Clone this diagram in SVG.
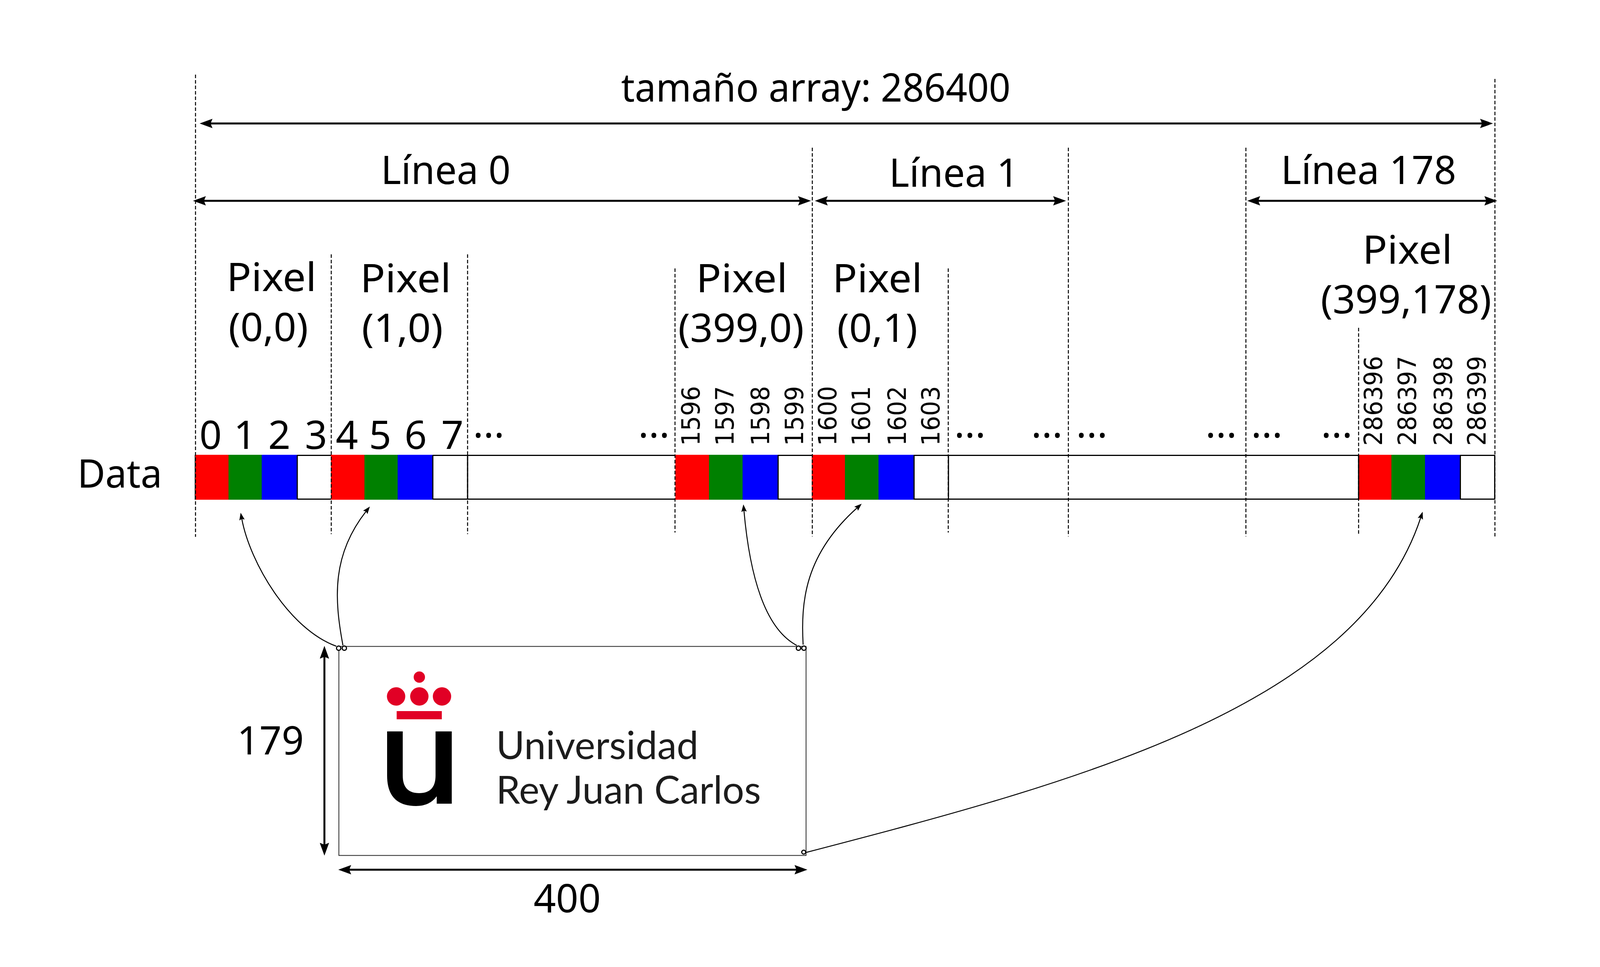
<svg xmlns="http://www.w3.org/2000/svg" width="4163" height="2475" viewBox="0 0 4163 2475">
<style>
.t{font-family:"Noto Sans","Open Sans",sans-serif;font-size:100px;fill:#000}
.m{text-anchor:middle}
.v{font-family:"DejaVu Sans",sans-serif;font-size:64px;fill:#000}
.l{font-family:Lato,"Noto Sans",sans-serif;font-size:98px;fill:#1c1c1c}
.d{stroke:#000;stroke-width:2.500;stroke-dasharray:9 5;fill:none}
.s{stroke:#000;stroke-width:3;fill:none}
.a{stroke:#000;stroke-width:5;fill:none;marker-start:url(#big);marker-end:url(#big)}
.c{stroke:#000;stroke-width:2.500;fill:none;marker-end:url(#thin)}
.o{stroke:#000;stroke-width:3;fill:#fff}
.r{fill:#ff0000}.g{fill:#008000}.b{fill:#0000ff}
.rj{fill:#e10025}
</style>
<defs>
<marker id="big" markerUnits="userSpaceOnUse" viewBox="0 -12 33 24" refX="6" refY="0" markerWidth="33" markerHeight="24" orient="auto-start-reverse"><path d="M0 -12L33 0L0 12L5 0Z" fill="#000"/></marker>
<marker id="thin" markerUnits="userSpaceOnUse" viewBox="0 -7 19 14" refX="3" refY="0" markerWidth="19" markerHeight="14" orient="auto"><path d="M0 -7L19 0L0 7L3 0Z" fill="#000"/></marker>
</defs>
<rect width="4163" height="2475" fill="#fff"/>
<g id="data-array">
<rect x="500" y="1165.500" width="3326.500" height="112" fill="#fff" class="s"/>
<g id="pixel-0-0"><rect class="r" x="500" y="1164" width="85" height="115"/><rect class="g" x="585" y="1164" width="85" height="115"/><rect class="b" x="670" y="1164" width="91" height="115"/><path class="s" d="M761 1165V1278"/></g>
<g id="pixel-1-0"><rect class="r" x="847" y="1164" width="86" height="115"/><rect class="g" x="933" y="1164" width="85" height="115"/><rect class="b" x="1018" y="1164" width="90" height="115"/><path class="s" d="M1108 1165V1278M1197 1165V1278"/></g>
<g id="pixel-399-0"><rect class="r" x="1729" y="1164" width="86" height="115"/><rect class="g" x="1815" y="1164" width="86" height="115"/><rect class="b" x="1901" y="1164" width="90" height="115"/><path class="s" d="M1992 1165V1278"/></g>
<g id="pixel-0-1"><rect class="r" x="2078" y="1164" width="85" height="115"/><rect class="g" x="2163" y="1164" width="86" height="115"/><rect class="b" x="2249" y="1164" width="90" height="115"/><path class="s" d="M2340 1165V1278M2428 1165V1278"/></g>
<g id="pixel-399-178"><rect class="r" x="3479" y="1164" width="83" height="115"/><rect class="g" x="3562" y="1164" width="86" height="115"/><rect class="b" x="3648" y="1164" width="90" height="115"/><path class="s" d="M3738.500 1165V1278M3478 1165V1278"/></g>
</g>
<g id="guides">
<path class="d" d="M500.500 191V1374"/><path class="d" d="M848 651V1367"/><path class="d" d="M1197 651V1367"/><path class="d" d="M1728 687V1363"/><path class="d" d="M2079.500 378V1373"/><path class="d" d="M2427.500 687V1363"/><path class="d" d="M2735 378V1373"/><path class="d" d="M3189.500 378V1373"/><path class="d" d="M3478 839V1370"/><path class="d" d="M3827 202V1373"/>
</g>
<g id="connectors">
<path class="a" d="M538 316H3795"/>
<path class="a" d="M521 514H2049"/>
<path class="a" d="M2113 514H2702"/>
<path class="a" d="M3220 514H3806"/>
<path class="a" d="M830.500 1680V2163"/>
<path class="a" d="M893 2226H2040"/>
<path class="c" d="M861 1654C740 1610 640 1440 619 1328"/>
<path class="c" d="M878 1652C855 1530 850 1420 937 1309"/>
<path class="c" d="M2040 1652C1960 1610 1920 1480 1904.500 1307"/>
<path class="c" d="M2056 1650C2050 1540 2060 1420 2194 1300"/>
<path class="c" d="M2059 2183C2759 2001 3477 1810 3637 1325"/>
</g>
<g id="image">
<rect x="867.500" y="1654.500" width="1196" height="535" fill="none" stroke="#222" stroke-width="2"/>
<g id="logo">
<circle class="rj" cx="1073.500" cy="1733" r="14.500"/><circle class="rj" cx="1014" cy="1782.500" r="23.500"/><circle class="rj" cx="1073.500" cy="1782.500" r="23.500"/><circle class="rj" cx="1131.500" cy="1782.500" r="23.500"/>
<rect class="rj" x="1015.500" y="1820" width="115.500" height="21"/>
<path d="M991 1872H1031V1985Q1031 2030 1073 2030Q1115 2030 1115 1985V1872H1156.500V2057H1118V2038Q1100 2063 1065 2063Q991 2063 991 1985Z" fill="#000"/>
<text class="l" x="1270" y="1943" textLength="518" lengthAdjust="spacingAndGlyphs">Universidad</text>
<text class="l" x="1270" y="2057" textLength="678" lengthAdjust="spacingAndGlyphs">Rey Juan Carlos</text>
</g>
<circle class="o" cx="867" cy="1659" r="5.500"/><circle class="o" cx="881.500" cy="1659" r="5.500"/><circle class="o" cx="2044" cy="1659" r="5.500"/><circle class="o" cx="2058" cy="1659" r="5.500"/><circle class="o" cx="2057.500" cy="2181" r="5"/>
</g>
<g id="labels">
<text class="t" x="1590" y="260" textLength="997" lengthAdjust="spacingAndGlyphs">tamaño array: 286400</text>
<text class="t" x="975" y="471" textLength="332" lengthAdjust="spacingAndGlyphs">Línea 0</text>
<text class="t" x="2276" y="478" textLength="332" lengthAdjust="spacingAndGlyphs">Línea 1</text>
<text class="t" x="3279" y="471" textLength="449" lengthAdjust="spacingAndGlyphs">Línea 178</text>
<text class="t" x="198" y="1248" textLength="217" lengthAdjust="spacingAndGlyphs">Data</text>
<text class="t" x="580" y="745" textLength="230" lengthAdjust="spacingAndGlyphs">Pixel</text><text class="t" x="585" y="873" textLength="204" lengthAdjust="spacingAndGlyphs">(0,0)</text>
<text class="t" x="922" y="748" textLength="233" lengthAdjust="spacingAndGlyphs">Pixel</text><text class="t" x="926" y="875" textLength="208" lengthAdjust="spacingAndGlyphs">(1,0)</text>
<text class="t" x="1782" y="748" textLength="234" lengthAdjust="spacingAndGlyphs">Pixel</text><text class="t" x="1736" y="875" textLength="322" lengthAdjust="spacingAndGlyphs">(399,0)</text>
<text class="t" x="2131" y="748" textLength="230" lengthAdjust="spacingAndGlyphs">Pixel</text><text class="t" x="2143" y="875" textLength="206" lengthAdjust="spacingAndGlyphs">(0,1)</text>
<text class="t" x="3488" y="675" textLength="230" lengthAdjust="spacingAndGlyphs">Pixel</text><text class="t" x="3381" y="802" textLength="437" lengthAdjust="spacingAndGlyphs">(399,178)</text>
<text class="t" x="607" y="1931" textLength="171" lengthAdjust="spacingAndGlyphs">179</text>
<text class="t" x="1366" y="2335" textLength="172" lengthAdjust="spacingAndGlyphs">400</text>
</g>
<g id="indices">
<text class="t m" x="539" y="1149">0</text><text class="t m" x="627" y="1149">1</text><text class="t m" x="715" y="1149">2</text><text class="t m" x="809" y="1149">3</text><text class="t m" x="888" y="1149">4</text><text class="t m" x="973" y="1149">5</text><text class="t m" x="1064" y="1149">6</text><text class="t m" x="1158" y="1149">7</text>
<text class="t m" x="1251" y="1120">...</text><text class="t m" x="1674" y="1120">...</text><text class="t m" x="2483" y="1120">...</text><text class="t m" x="2680" y="1120">...</text><text class="t m" x="2795" y="1120">...</text><text class="t m" x="3126" y="1120">...</text><text class="t m" x="3243" y="1120">...</text><text class="t m" x="3422" y="1120">...</text>
<text class="v" textLength="153" lengthAdjust="spacingAndGlyphs" transform="translate(1790.500 1141) rotate(-90)">1596</text><text class="v" textLength="153" lengthAdjust="spacingAndGlyphs" transform="translate(1878 1141) rotate(-90)">1597</text><text class="v" textLength="153" lengthAdjust="spacingAndGlyphs" transform="translate(1968.500 1141) rotate(-90)">1598</text><text class="v" textLength="153" lengthAdjust="spacingAndGlyphs" transform="translate(2056 1141) rotate(-90)">1599</text><text class="v" textLength="153" lengthAdjust="spacingAndGlyphs" transform="translate(2141 1141) rotate(-90)">1600</text><text class="v" textLength="153" lengthAdjust="spacingAndGlyphs" transform="translate(2227 1141) rotate(-90)">1601</text><text class="v" textLength="153" lengthAdjust="spacingAndGlyphs" transform="translate(2319 1141) rotate(-90)">1602</text><text class="v" textLength="153" lengthAdjust="spacingAndGlyphs" transform="translate(2405 1141) rotate(-90)">1603</text>
<text class="v" textLength="230" lengthAdjust="spacingAndGlyphs" transform="translate(3538 1141) rotate(-90)">286396</text><text class="v" textLength="230" lengthAdjust="spacingAndGlyphs" transform="translate(3625 1141) rotate(-90)">286397</text><text class="v" textLength="230" lengthAdjust="spacingAndGlyphs" transform="translate(3717 1141) rotate(-90)">286398</text><text class="v" textLength="230" lengthAdjust="spacingAndGlyphs" transform="translate(3802.500 1141) rotate(-90)">286399</text>
</g>
</svg>
